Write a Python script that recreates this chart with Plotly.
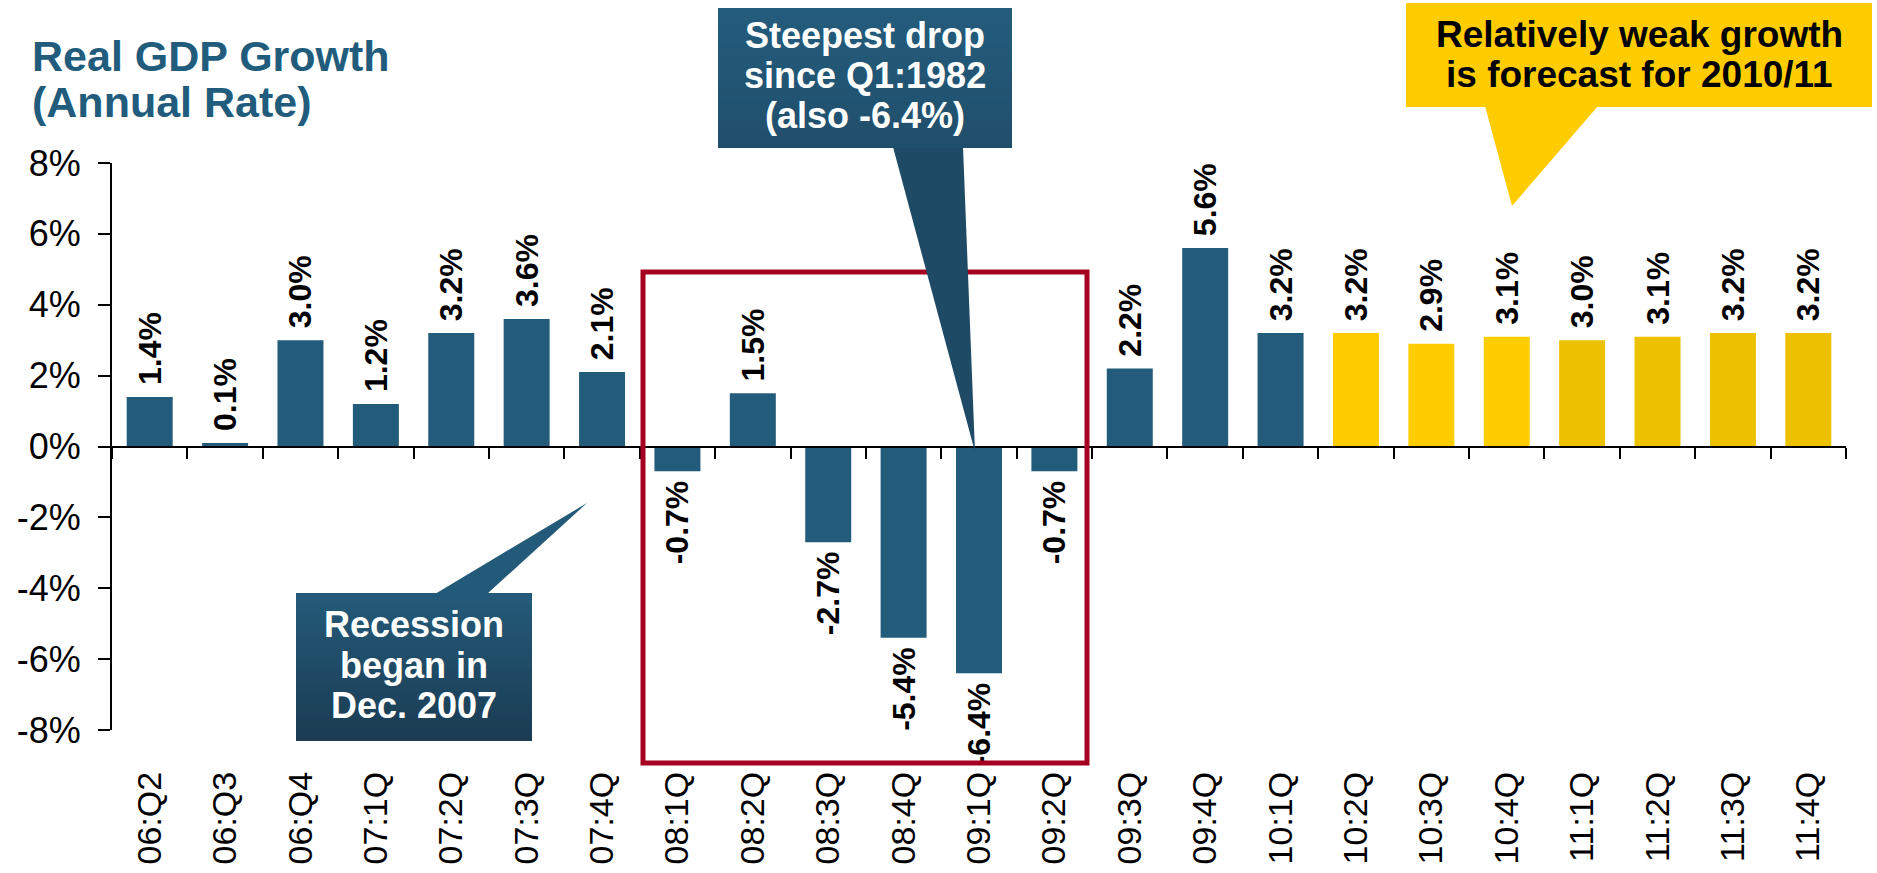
import plotly.graph_objects as go

quarters = ["06:Q2", "06:Q3", "06:Q4", "07:1Q", "07:2Q", "07:3Q", "07:4Q",
            "08:1Q", "08:2Q", "08:3Q", "08:4Q", "09:1Q", "09:2Q", "09:3Q",
            "09:4Q", "10:1Q", "10:2Q", "10:3Q", "10:4Q", "11:1Q", "11:2Q",
            "11:3Q", "11:4Q"]
growth = [1.4, 0.1, 3.0, 1.2, 3.2, 3.6, 2.1,
          -0.7, 1.5, -2.7, -5.4, -6.4, -0.7, 2.2,
          5.6, 3.2, 3.2, 2.9, 3.1, 3.0, 3.1,
          3.2, 3.2]
# actual = 16 quarters, then forecast (10:2Q-10:4Q, then 2011)
n_actual = 16
n_fc_2010 = 3
y_ticks = [-8, -6, -4, -2, 0, 2, 4, 6, 8]
y_tick_labels = ["-8%", "-6%", "-4%", "-2%", "0%", "2%", "4%", "6%", "8%"]

BLUE = "#235B7A"
YELLOW = "#FFCC00"
YELLOW2 = "#ECC100"
RED = "#A50021"
FONT = "Liberation Sans, Arial, sans-serif"

colors = []
for i in range(len(growth)):
    if i < n_actual:
        colors.append(BLUE)
    elif i < n_actual + n_fc_2010:
        colors.append(YELLOW)
    else:
        colors.append(YELLOW2)

labels = []
for v in growth:
    if v >= 0:
        labels.append("\u00a0" + f"{v:.1f}%")
    else:
        labels.append(f"{v:.1f}%" + "\u2009")

W, H = 1877, 873
# plot area in screen pixels
L, R, T, B = 112, 1846, 163, 730


def px(x):
    return (x - L) / (R - L)


def py(y):
    return (B - y) / (B - T)


fig = go.Figure()
fig.add_trace(go.Bar(
    x=quarters, y=growth, marker_color=colors, marker_line_width=0,
    text=labels, textposition="outside", textangle=-90,
    textfont=dict(family=FONT, size=32, color="black", weight="bold"),
    constraintext="none", cliponaxis=False, hoverinfo="skip",
    showlegend=False,
))
# helper trace so the zero-line axis gets its categories
fig.add_trace(go.Scatter(
    x=quarters, y=growth, xaxis="x2", mode="markers",
    marker=dict(opacity=0, size=1), hoverinfo="skip", showlegend=False,
))

shapes = []
annotations = []


def mix(c1, c2, t):
    a = [int(c1[i:i + 2], 16) for i in (1, 3, 5)]
    b = [int(c2[i:i + 2], 16) for i in (1, 3, 5)]
    return "#" + "".join(f"{round(a[k] + (b[k] - a[k]) * t):02x}" for k in range(3))


def gradient_box(x0, y0, x1, y1, c_top, c_bot, n=24):
    h = (y1 - y0) / n
    for i in range(n):
        ya = y0 + i * h
        yb = min(ya + h + 0.8, y1)
        shapes.append(dict(type="rect", xref="paper", yref="paper",
                           x0=px(x0), x1=px(x1), y0=py(yb), y1=py(ya),
                           fillcolor=mix(c_top, c_bot, i / (n - 1)),
                           line_width=0, layer="above"))


def pointer(pts, color):
    path = "M " + " L ".join(f"{px(x)},{py(y)}" for x, y in pts) + " Z"
    shapes.append(dict(type="path", xref="paper", yref="paper", path=path,
                       fillcolor=color, line_width=0, layer="above"))


def text_lines(lines, xc, centers, size, color, anchor="center"):
    for s, yc in zip(lines, centers):
        annotations.append(dict(
            text=s, xref="paper", yref="paper", x=px(xc), y=py(yc),
            xanchor=anchor, yanchor="middle", showarrow=False,
            font=dict(family=FONT, size=size, color=color, weight="bold"),
        ))


# recession box
shapes.append(dict(type="rect", xref="paper", yref="paper",
                   x0=px(643), x1=px(1087), y0=py(763), y1=py(272),
                   line=dict(color=RED, width=5), fillcolor="rgba(0,0,0,0)",
                   layer="above"))

# callout: steepest drop
pointer([(893, 147), (963, 147), (975, 452)], "#1F4A66")
gradient_box(718, 8, 1012, 148, "#245C7C", "#204F6C")
text_lines(["Steepest drop", "since Q1:1982", "(also -6.4%)"], 865,
           [35, 76, 116], 36, "white")

# callout: recession began
pointer([(435, 594), (487, 594), (587, 503)], "#235A7A")
gradient_box(296, 593, 532, 741, "#245A79", "#1B3C53")
text_lines(["Recession", "began in", "Dec. 2007"], 414,
           [624, 665, 705], 36, "white")

# callout: forecast
pointer([(1485, 106), (1598, 106), (1512, 206)], YELLOW)
shapes.append(dict(type="rect", xref="paper", yref="paper",
                   x0=px(1406), x1=px(1872), y0=py(107), y1=py(3),
                   fillcolor=YELLOW, line_width=0, layer="above"))
text_lines(["Relatively weak growth", "is forecast for 2010/11"], 1639,
           [34, 74], 37, "black")

# chart title
text_lines(["Real GDP Growth", "(Annual Rate)"], 30, [56, 102], 43,
           "#215C7D", anchor="left")

fig.update_layout(
    width=W, height=H,
    margin=dict(l=L, r=W - R, t=T, b=H - B, autoexpand=False),
    plot_bgcolor="white", paper_bgcolor="white",
    bargap=0.39, hovermode=False,
    font=dict(family=FONT, color="black"),
    shapes=shapes, annotations=annotations,
    xaxis=dict(
        type="category", range=[-0.5, len(quarters) - 0.5],
        showline=False, ticks="", showgrid=False, zeroline=False,
        tickangle=-90, tickfont=dict(family=FONT, size=34, color="black"),
        ticklabelstandoff=34, automargin=False,
    ),
    xaxis2=dict(
        type="category", overlaying="x", anchor="free", position=0.5,
        range=[-0.5, len(quarters) - 0.5],
        showline=True, linecolor="black", linewidth=2,
        ticks="outside", tickson="boundaries", ticklen=11, tickwidth=2,
        tickcolor="black", showticklabels=False, showgrid=False,
        zeroline=False, automargin=False,
    ),
    yaxis=dict(
        range=[-8, 8], tickvals=y_ticks, ticktext=y_tick_labels,
        showline=True, linecolor="black", linewidth=2,
        ticks="outside", ticklen=12, tickwidth=2, tickcolor="black",
        showgrid=False, zeroline=False, automargin=False,
        tickfont=dict(family=FONT, size=36, color="black"),
        ticklabelstandoff=10,
    ),
)

# drop the browser's default 8px page margin so the figure fills the window
fig.write_html("out.html", config={"displayModeBar": False},
               post_script="document.body.style.margin='0px';")
